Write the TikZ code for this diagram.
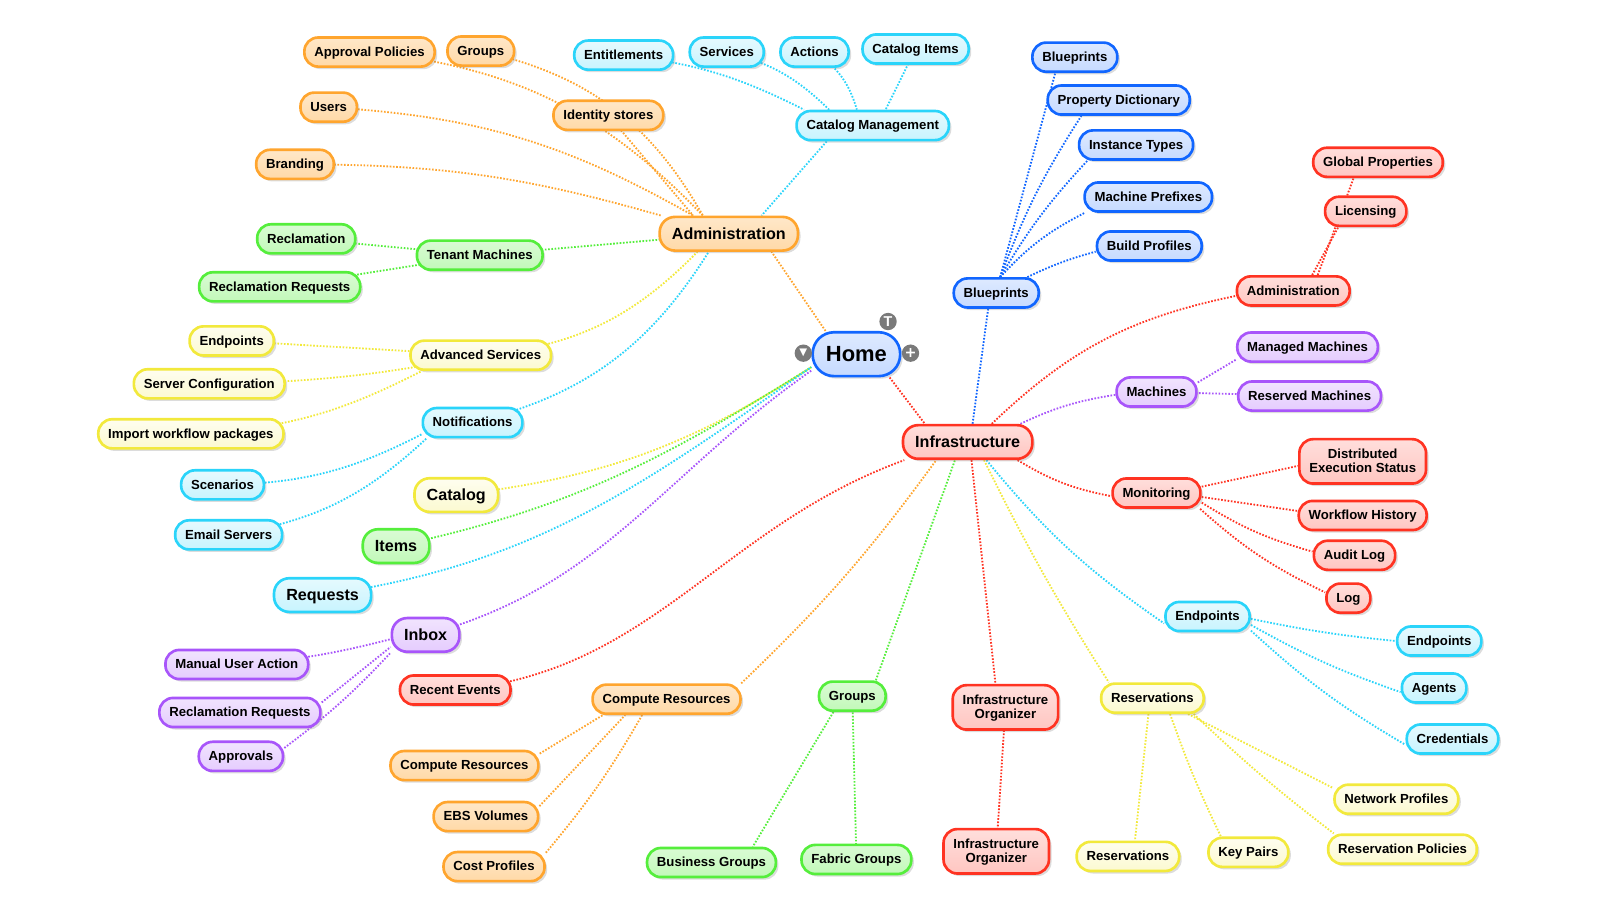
\documentclass[tikz,border=0pt]{standalone}
\usepackage{fontspec}
\setmainfont{Liberation Sans}
\newfontfamily\symfont{DejaVu Sans}
\usetikzlibrary{shadows,backgrounds}
\definecolor{maporange}{HTML}{FFA52E}
\definecolor{mapcyan}{HTML}{2AD4FA}
\definecolor{mapgreen}{HTML}{55EE3C}
\definecolor{mapyellow}{HTML}{F2E93C}
\definecolor{mappurple}{HTML}{A855FA}
\definecolor{mapred}{HTML}{FF3322}
\definecolor{mapblue}{HTML}{1166FF}
\tikzset{mapbox/.style={draw,line width=2.6pt,rounded corners=13.5pt,minimum height=28.5pt,
    inner xsep=9.7pt,inner ysep=8pt,text height=9.5pt,text depth=1pt,align=center,
    font=\fontsize{12.9}{14}\bfseries\selectfont,
    drop shadow={shadow xshift=2.5pt,shadow yshift=-2.5pt,opacity=.28}}}
\tikzset{bigbox/.style={minimum height=33pt,inner xsep=12pt,rounded corners=15pt,text height=11.5pt,text depth=1.2pt,font=\fontsize{15.8}{17}\bfseries\selectfont}}
\tikzset{homebox/.style={minimum height=43pt,inner xsep=13pt,rounded corners=21pt,text height=15.5pt,text depth=1.5pt,font=\fontsize{21.5}{23}\bfseries\selectfont}}
\tikzset{twoline/.style={minimum height=43.5pt,text height=23.5pt}}
\tikzset{orangebox/.style={mapbox,draw=maporange,top color=maporange!26,bottom color=maporange!42}}
\tikzset{cyanbox/.style={mapbox,draw=mapcyan,top color=mapcyan!12,bottom color=mapcyan!26}}
\tikzset{greenbox/.style={mapbox,draw=mapgreen,top color=mapgreen!22,bottom color=mapgreen!36}}
\tikzset{yellowbox/.style={mapbox,draw=mapyellow,top color=mapyellow!8,bottom color=mapyellow!24}}
\tikzset{purplebox/.style={mapbox,draw=mappurple,top color=mappurple!16,bottom color=mappurple!30}}
\tikzset{redbox/.style={mapbox,draw=mapred,top color=mapred!16,bottom color=mapred!28}}
\tikzset{bluebox/.style={mapbox,draw=mapblue,top color=mapblue!14,bottom color=mapblue!24}}
\tikzset{link/.style={line width=1.8pt,dash pattern=on 1.6pt off 1.6pt}}
\tikzset{iconbtn/.style={circle,fill=black!52,text=white,inner sep=0pt,minimum size=17pt,font=\fontsize{14}{14}\bfseries\selectfont}}

\begin{document}
\begin{tikzpicture}[x=1pt,y=-1pt]
  \useasboundingbox (0,0) rectangle (1567.5,895.4);

  \node [bluebox,homebox] (home) at (839,347) {Home};
  \node [iconbtn] (btntext) at (870,315) {T};
  \node [iconbtn] (btnmenu) at (787,346) {\symfont\fontsize{10}{10}\selectfont ▼};
  \node [iconbtn] (btnplus) at (892,346) {\symfont +};

  \node [orangebox,bigbox] (admin) at (714,229) {Administration};
  \node [orangebox] (approval) at (362,51) {Approval Policies};
  \node [orangebox] (groups) at (471,50) {Groups};
  \node [orangebox] (identity) at (596,113) {Identity stores};
  \node [orangebox] (users) at (322,105) {Users};
  \node [orangebox] (branding) at (289,161) {Branding};

  \node [cyanbox] (catmgmt) at (855,123) {Catalog Management};
  \node [cyanbox] (entitle) at (611,54) {Entitlements};
  \node [cyanbox] (services) at (712,51) {Services};
  \node [cyanbox] (actions) at (798,51) {Actions};
  \node [cyanbox] (catitems) at (897,48) {Catalog Items};

  \node [greenbox] (tenant) at (470,250) {Tenant Machines};
  \node [greenbox] (reclaim) at (300,234) {Reclamation};
  \node [greenbox] (reclreq) at (274,281) {Reclamation Requests};

  \node [yellowbox] (advanced) at (471,348) {Advanced Services};
  \node [yellowbox] (advend) at (227,334) {Endpoints};
  \node [yellowbox] (server) at (205,376) {Server Configuration};
  \node [yellowbox] (workflow) at (187,425) {Import workflow packages};

  \node [cyanbox] (notify) at (463,414) {Notifications};
  \node [cyanbox] (scenarios) at (218,475) {Scenarios};
  \node [cyanbox] (email) at (224,524) {Email Servers};

  \node [yellowbox,bigbox] (catalog) at (447,485) {Catalog};
  \node [greenbox,bigbox] (items) at (388,535) {Items};
  \node [cyanbox,bigbox] (requests) at (316,583) {Requests};
  \node [purplebox,bigbox] (inbox) at (417,622) {Inbox};
  \node [purplebox] (manual) at (232,651) {Manual User Action};
  \node [purplebox] (inboxreq) at (235,698) {Reclamation Requests};
  \node [purplebox] (approvals) at (236,741) {Approvals};

  \node [redbox,bigbox] (infra) at (948,433) {Infrastructure};
  \node [redbox] (recent) at (446,676) {Recent Events};
  \node [orangebox] (compute) at (653,685) {Compute Resources};
  \node [orangebox] (compres) at (455,750) {Compute Resources};
  \node [orangebox] (ebs) at (476,800) {EBS Volumes};
  \node [orangebox] (cost) at (484,849) {Cost Profiles};

  \node [greenbox] (infgroups) at (835,682) {Groups};
  \node [greenbox] (business) at (697,845) {Business Groups};
  \node [greenbox] (fabric) at (839,842) {Fabric Groups};

  \node [redbox,twoline] (organizer) at (985,693) {Infrastructure\\Organizer};
  \node [redbox,twoline] (orgchild) at (976,834) {Infrastructure\\Organizer};

  \node [yellowbox] (reserve) at (1129,684) {Reservations};
  \node [yellowbox] (reschild) at (1105,839) {Reservations};
  \node [yellowbox] (keypairs) at (1223,835) {Key Pairs};
  \node [yellowbox] (network) at (1368,783) {Network Profiles};
  \node [yellowbox] (respol) at (1374,832) {Reservation Policies};

  \node [cyanbox] (infend) at (1183,604) {Endpoints};
  \node [cyanbox] (endchild) at (1410,628) {Endpoints};
  \node [cyanbox] (agents) at (1405,674) {Agents};
  \node [cyanbox] (creds) at (1423,724) {Credentials};

  \node [redbox] (monitor) at (1133,483) {Monitoring};
  \node [redbox,twoline] (distrib) at (1335,452) {Distributed\\Execution Status};
  \node [redbox] (history) at (1335,505) {Workflow History};
  \node [redbox] (audit) at (1327,544) {Audit Log};
  \node [redbox] (logs) at (1321,586) {Log};

  \node [purplebox] (machines) at (1133,384) {Machines};
  \node [purplebox] (managed) at (1281,340) {Managed Machines};
  \node [purplebox] (reserved) at (1283,388) {Reserved Machines};

  \node [redbox] (infadmin) at (1267,285) {Administration};
  \node [redbox] (licensing) at (1338,207) {Licensing};
  \node [redbox] (globalp) at (1350,159) {Global Properties};

  \node [bluebox] (blueprints) at (976,287) {Blueprints};
  \node [bluebox] (bpchild) at (1053,56) {Blueprints};
  \node [bluebox] (property) at (1096,98) {Property Dictionary};
  \node [bluebox] (instance) at (1113,142) {Instance Types};
  \node [bluebox] (prefixes) at (1125,193) {Machine Prefixes};
  \node [bluebox] (build) at (1126,241) {Build Profiles};

  \begin{scope}[on background layer]
    \draw [link,maporange] (home.143) to (admin.337);
    \draw [link,mapred] (home.325) to (infra.157);

    \draw [link,maporange] (approval.center) to [bend left=20] (admin.145);
    \draw [link,maporange] (groups.center) to [bend left=24] (admin.145);
    \draw [link,maporange] (identity.center) to (admin.153);
    \draw [link,maporange] (users.center) to [bend left=13] (admin.153);
    \draw [link,maporange] (branding.center) to [bend left=8] (admin.165);

    \draw [link,mapcyan] (catmgmt.199) to (admin.29);
    \draw [link,mapcyan] (entitle.center) to [bend left=10] (catmgmt.167);
    \draw [link,mapcyan] (services.center) to [bend left=15] (catmgmt.160);
    \draw [link,mapcyan] (actions.center) to [bend left=20] (catmgmt.135);
    \draw [link,mapcyan] (catitems.center) to (catmgmt.51);

    \draw [link,mapgreen] (tenant.center) to (admin.center);
    \draw [link,mapgreen] (reclaim.center) to (tenant.center);
    \draw [link,mapgreen] (reclreq.center) to (tenant.center);

    \draw [link,mapyellow] (advanced.center) to [bend right=20] (admin.210);
    \draw [link,mapyellow] (advend.center) to (advanced.center);
    \draw [link,mapyellow] (server.center) to [bend right=5] (advanced.center);
    \draw [link,mapyellow] (workflow.center) to [bend right=12] (advanced.195);

    \draw [link,mapcyan] (notify.center) to [bend right=22] (admin.222);
    \draw [link,mapcyan] (scenarios.center) to [bend right=13] (notify.193);
    \draw [link,mapcyan] (email.center) to [bend right=17] (notify.199);

    \draw [link,mapyellow] (catalog.center) to [bend right=13] (home.196);
    \draw [link,mapgreen] (items.center) to [out=12,in=212] (home.196);
    \draw [link,mapcyan] (requests.center) to [out=8,in=215] (home.196);
    \draw [link,mappurple] (inbox.center) to [out=15,in=215] (home.200);
    \draw [link,mappurple] (manual.center) to [bend right=5] (inbox.187);
    \draw [link,mappurple] (inboxreq.7) to (inbox.199);
    \draw [link,mappurple] (approvals.11) to [bend right=5] (inbox.207);

    \draw [link,mapred] (recent.center) to [out=5,in=200] (infra.196);
    \draw [link,maporange] (compute.12) to [bend right=5] (infra.210);
    \draw [link,maporange] (compres.9) to (compute.194);
    \draw [link,maporange] (ebs.11) to (compute.201);
    \draw [link,maporange] (cost.15) to [bend right=5] (compute.213);

    \draw [link,mapgreen] (infgroups.34) to (infra.235);
    \draw [link,mapgreen] (infgroups.220) to (business.21);
    \draw [link,mapgreen] (infgroups.center) to (fabric.center);

    \draw [link,mapred] (infra.282) to (organizer.113);
    \draw [link,mapred] (organizer.center) to (orgchild.center);

    \draw [link,mapyellow] (infra.312) to [bend right=3] (reserve.160);
    \draw [link,mapyellow] (reserve.256) to (reschild.66);
    \draw [link,mapyellow] (reserve.318) to [bend right=3] (keypairs.150);
    \draw [link,mapyellow] (reserve.336) to (network.170);
    \draw [link,mapyellow] (reserve.339) to [bend right=3] (respol.167);

    \draw [link,mapcyan] (infra.316) to [bend right=8] (infend.189);
    \draw [link,mapcyan] (infend.357) to [bend right=3] (endchild.180);
    \draw [link,mapcyan] (infend.349) to [bend right=5] (agents.187);
    \draw [link,mapcyan] (infend.342) to [bend right=6] (creds.187);

    \draw [link,mapred] (infra.340) to [bend right=10] (monitor.184);
    \draw [link,mapred] (monitor.8) to (distrib.184);
    \draw [link,mapred] (monitor.355) to (history.176);
    \draw [link,mapred] (monitor.348) to [bend right=8] (audit.175);
    \draw [link,mapred] (monitor.340) to [bend right=8] (logs.166);

    \draw [link,mappurple] (infra.19) to [bend left=8] (machines.184);
    \draw [link,mappurple] (machines.13) to (managed.190);
    \draw [link,mappurple] (machines.center) to (reserved.center);

    \draw [link,mapred] (infra.37) to [bend left=16] (infadmin.185);
    \draw [link,mapred] (infadmin.40) to (licensing.210);
    \draw [link,mapred] (infadmin.33) to (globalp.213);

    \draw [link,mapblue] (blueprints.243) to (infra.75);
    \draw [link,mapblue] (blueprints.76) to (bpchild.219);
    \draw [link,mapblue] (blueprints.76) to [bend left=6] (property.203);
    \draw [link,mapblue] (blueprints.76) to [bend left=6] (instance.198);
    \draw [link,mapblue] (blueprints.76) to [bend left=10] (prefixes.194);
    \draw [link,mapblue] (blueprints.27) to [bend left=5] (build.186);
  \end{scope}
\end{tikzpicture}
\end{document}
